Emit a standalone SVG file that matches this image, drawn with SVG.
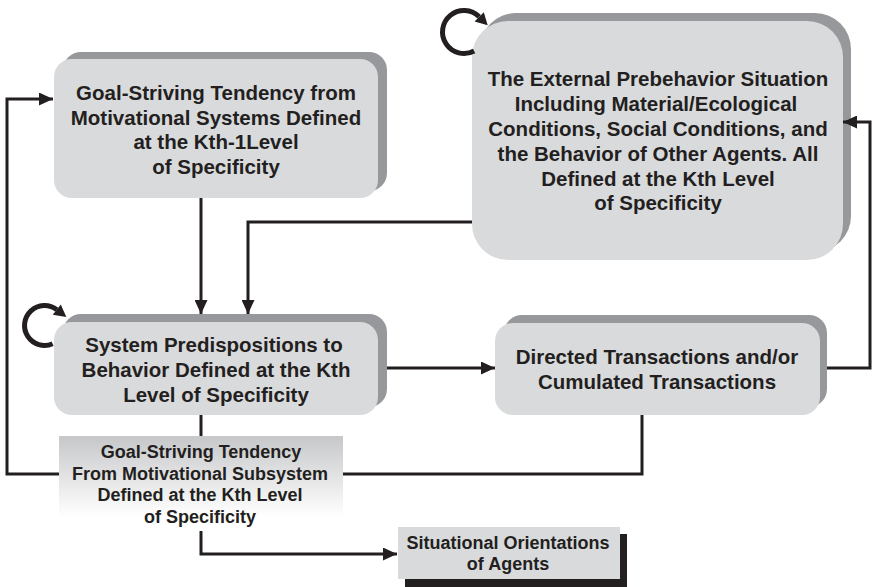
<svg xmlns="http://www.w3.org/2000/svg" width="873" height="587" viewBox="0 0 873 587">
  <style>
    .bg { fill: #ffffff; }
    .front { fill: #d9dadc; }
    .shadow { fill: #97989b; }
    .label { font-family: "Liberation Sans", Arial, sans-serif; font-weight: bold; fill: #231f20; text-anchor: middle; }
    .big { font-size: 20.5px; }
    .small { font-size: 18px; }
    .wire { fill: none; stroke: #231f20; stroke-width: 3; }
    .loop { fill: none; stroke: #231f20; stroke-width: 5; }
    .head { fill: #231f20; }
  </style>
  <defs>
    <marker id="arrow" markerUnits="userSpaceOnUse" viewBox="0 0 14 13" refX="14" refY="6.5" markerWidth="14" markerHeight="13" orient="auto">
      <path d="M0,0 L14,6.5 L0,13 Z" fill="#231f20"/>
    </marker>
    <linearGradient id="fade" x1="0" y1="0" x2="0" y2="1">
      <stop offset="0" stop-color="#c6c7c9"/>
      <stop offset="0.85" stop-color="#ffffff"/>
    </linearGradient>
  </defs>

  <rect class="bg" x="0" y="0" width="873" height="587"/>

  <!-- Goal-striving tendency, Kth-1 level -->
  <g id="goal-kth-1">
    <rect class="shadow" x="63" y="52" width="324" height="139" rx="18"/>
    <rect class="front" x="54" y="59" width="324" height="139" rx="18"/>
    <text class="label big" x="216" y="100">Goal-Striving Tendency from</text>
    <text class="label big" x="216" y="124.5">Motivational Systems Defined</text>
    <text class="label big" x="216" y="149">at  the Kth-1Level</text>
    <text class="label big" x="216" y="173.5">of Specificity</text>
  </g>

  <!-- External prebehavior situation -->
  <g id="external-situation">
    <rect class="shadow" x="480" y="13" width="371" height="239" rx="36"/>
    <rect class="front" x="472" y="21" width="371" height="239" rx="36"/>
    <text class="label big" x="658" y="86">The External Prebehavior Situation</text>
    <text class="label big" x="656" y="111">Including Material/Ecological</text>
    <text class="label big" x="658" y="136">Conditions, Social Conditions, and</text>
    <text class="label big" x="658" y="161">the Behavior of Other Agents. All</text>
    <text class="label big" x="658" y="186">Defined at the Kth Level</text>
    <text class="label big" x="658" y="210">of Specificity</text>
  </g>

  <!-- System predispositions -->
  <g id="system-predispositions">
    <rect class="shadow" x="63" y="314" width="324" height="93" rx="18"/>
    <rect class="front" x="54" y="322" width="324" height="93" rx="18"/>
    <text class="label big" x="214" y="352">System Predispositions to</text>
    <text class="label big" x="216" y="377">Behavior Defined at the Kth</text>
    <text class="label big" x="216" y="402">Level of Specificity</text>
  </g>

  <!-- Directed / cumulated transactions -->
  <g id="transactions">
    <rect class="shadow" x="504" y="315" width="323" height="92" rx="18"/>
    <rect class="front" x="495" y="323" width="325" height="92" rx="18"/>
    <text class="label big" x="657" y="364">Directed Transactions and/or</text>
    <text class="label big" x="657" y="389">Cumulated Transactions</text>
  </g>

  <!-- Goal-striving tendency, Kth level subsystem -->
  <g id="goal-kth">
    <rect x="59" y="436" width="284" height="95" fill="url(#fade)"/>
    <text class="label small" x="201" y="458">Goal-Striving Tendency</text>
    <text class="label small" x="200" y="479.5">From Motivational Subsystem</text>
    <text class="label small" x="200" y="501">Defined at the Kth Level</text>
    <text class="label small" x="200" y="522.5">of Specificity</text>
  </g>

  <!-- Situational orientations -->
  <g id="situational-orientations">
    <rect x="405" y="534" width="222" height="53" fill="#231f20"/>
    <rect class="front" x="398" y="527" width="222" height="52"/>
    <text class="label small" x="508" y="549">Situational Orientations</text>
    <text class="label small" x="508" y="570">of Agents</text>
  </g>

  <g id="connectors">
    <!-- feedback from transactions back to Kth-1 goal striving -->
    <path class="wire" d="M642,415 V474 H343"/>
    <path class="wire" d="M59,474 H7 V99 H53" marker-end="url(#arrow)"/>
    <!-- Kth-1 goal striving to predispositions -->
    <path class="wire" d="M201,198 V314" marker-end="url(#arrow)"/>
    <!-- external situation to predispositions -->
    <path class="wire" d="M472,222 H248 V314" marker-end="url(#arrow)"/>
    <!-- predispositions to transactions -->
    <path class="wire" d="M387,368 H495" marker-end="url(#arrow)"/>
    <!-- transactions back to external situation -->
    <path class="wire" d="M827,368 H870 V122 H843" marker-end="url(#arrow)"/>
    <!-- predispositions to Kth goal striving -->
    <path class="wire" d="M201,415 V436"/>
    <!-- Kth goal striving to situational orientations -->
    <path class="wire" d="M201,531 V554 H397" marker-end="url(#arrow)"/>
    <!-- self-loop on external situation -->
    <path class="loop" d="M474.1,51 A21.5,21.5 0 1 1 479.2,16.8"/>
    <polygon class="head" points="487.7,25.3 474.6,21.4 483.8,12.2"/>
    <!-- self-loop on predispositions -->
    <path class="loop" d="M52.6,343.8 A20,20 0 1 1 56.8,309.7"/>
    <polygon class="head" points="66.3,317.1 52.8,314.8 60.8,304.6"/>
  </g>
</svg>
